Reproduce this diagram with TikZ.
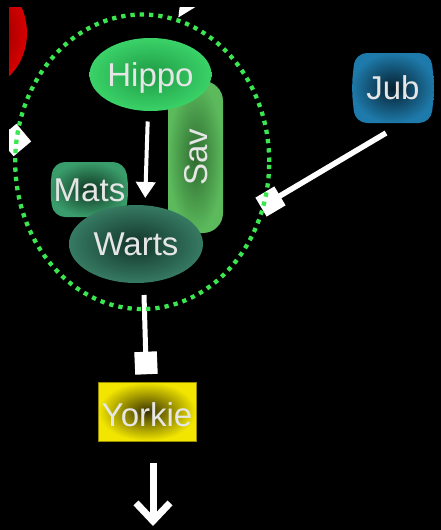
\documentclass[tikz,border=0pt]{standalone}
\usepackage{fontspec}
\setmainfont{Liberation Sans}
\usetikzlibrary{shapes.geometric,arrows.meta}
\definecolor{txtgray}{HTML}{E6E6E6}
\definecolor{dotgreen}{HTML}{3CE650}
\definecolor{hippoOut}{HTML}{3AD268}
\definecolor{hippoIn}{HTML}{1F9A45}
\definecolor{savOut}{HTML}{5CBA5C}
\definecolor{savIn}{HTML}{2E6B30}
\definecolor{matsOut}{HTML}{3A9C6A}
\definecolor{matsIn}{HTML}{0E3522}
\definecolor{wartsOut}{HTML}{367A62}
\definecolor{wartsIn}{HTML}{12342A}
\definecolor{jubOut}{HTML}{1E7AAA}
\definecolor{jubIn}{HTML}{06202F}
\definecolor{yorkOut}{HTML}{F2E600}
\definecolor{yorkIn}{HTML}{3A3300}
\definecolor{yorkLine}{HTML}{9A8C00}
\definecolor{redOut}{HTML}{D80000}
\definecolor{redIn}{HTML}{6A0000}
\begin{document}
\begin{tikzpicture}[x=1pt,y=-1pt,
  lbl/.style={text=txtgray, font=\fontsize{33}{36}\selectfont,
    text height=23.8pt, text depth=0pt, inner sep=0pt, outer sep=0pt},
  marker/.style={rectangle, fill=white, minimum size=22pt, inner sep=0pt},
  edge/.style={white, line cap=butt},
]
\useasboundingbox (0,0) rectangle (441,530);
\fill[black] (0,0) rectangle (441,530);
\begin{scope}
\clip (9,7.5) rectangle (441,530);
% red node (cut off)
\node[ellipse, shade, inner color=redIn, outer color=redOut,
  minimum width=94pt, minimum height=110pt, inner sep=0pt] (red) at (-20,33) {};
% Sav
\node[lbl, rectangle, rounded corners=20pt, shade, inner color=savIn, outer color=savOut,
  minimum width=152pt, minimum height=55pt, rotate=90] (sav) at (195.5,157) {Sav};
% Hippo
\node[lbl, ellipse, shade, inner color=hippoIn, outer color=hippoOut,
  minimum width=117pt, minimum height=73pt] (hippo) at (150.5,74.5) {Hippo};
% Mats
\shade[inner color=matsIn, outer color=matsOut, rounded corners=12pt]
  (53,162) -- (125,162) -- (129,189.5) -- (125,217) -- (53,217) -- (50,189.5) -- cycle;
\node[lbl] (mats) at (89.5,189.5) {Mats};
% Warts
\node[lbl, ellipse, shade, inner color=wartsIn, outer color=wartsOut,
  minimum width=134pt, minimum height=78pt] (warts) at (136,244) {Warts};
% Jub
\shade[inner color=jubIn, outer color=jubOut, rounded corners=12pt]
  (355,53) -- (431,53) -- (434.5,88) -- (431,123) -- (355,123) -- (351.5,88) -- cycle;
\node[lbl] (jub) at (393,88) {Jub};
% Yorkie
\node[lbl, rectangle, shade, inner color=yorkIn, outer color=yorkOut, draw=yorkLine, line width=1pt,
  minimum width=98pt, minimum height=59pt, text height=29.8pt] (yorkie) at (147,411.5) {Yorkie};

% edges
\draw[white, line width=4pt, -{Triangle[length=16pt,width=19pt]}, shorten <=10.5pt, shorten >=7pt]
  ([xshift=-2.5pt]hippo.south) -- ([xshift=9pt]warts.north);

\coordinate (jubout) at (386,133);
\node[marker, rotate=30.7] (m1) at (270.5,201.5) {};
\draw[edge, line width=5.5pt] (jubout) -- (m1.center);

\coordinate (wartsout) at (144,295);
\node[marker, minimum size=22.5pt, rotate=2.5] (m2) at (146,363) {};
\draw[edge, line width=5pt] (wartsout) -- (m2.center);

\coordinate (ybot) at (153,526);
\draw[white, line width=7pt, -{Straight Barb[length=18pt,width=34pt]}]
  ([xshift=6pt,yshift=-22pt]yorkie.south) -- (ybot);

\coordinate (topsrc) at (232,-66);
\coordinate (toptip) at (178,18);
\draw[white, line width=5pt, -{Triangle[length=20pt,width=17pt]}] (topsrc) -- (toptip);

\coordinate (leftsrc) at (-49,63);
\node[marker, minimum size=23pt, rotate=40] (m3) at (15,140) {};
\draw[edge, line width=5pt] (leftsrc) -- (m3.center);

% cluster
\node[ellipse, draw=dotgreen, line width=4.3pt, dash pattern=on 4.3pt off 5pt,
  minimum width=254pt, minimum height=294.5pt, inner sep=0pt] (cluster) at (142.2,161.8) {};
\end{scope}
\end{tikzpicture}
\end{document}
